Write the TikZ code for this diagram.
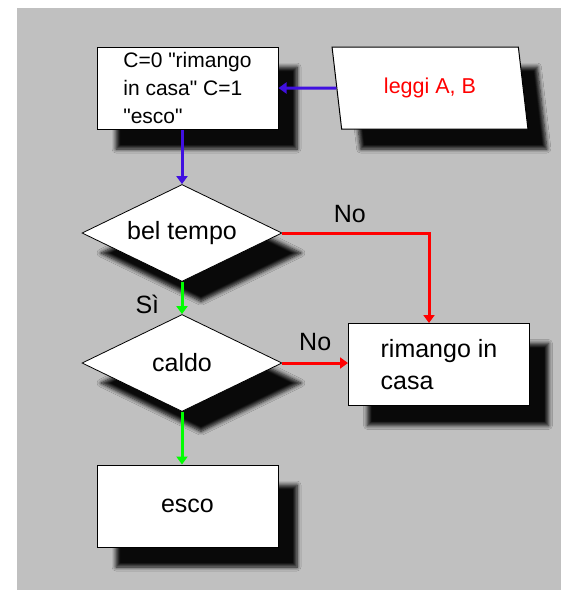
\documentclass[tikz,border=0pt]{standalone}
\usepackage{fontspec}
\setmainfont{Liberation Sans}
\usetikzlibrary{shapes.geometric,arrows.meta,shadows.blur}
\definecolor{bggray}{RGB}{192,192,192}
\definecolor{linkblue}{RGB}{64,16,224}
\definecolor{linkgreen}{RGB}{0,255,0}
\definecolor{linkred}{RGB}{255,0,0}
\newcommand{\dq}{\textquotedbl}
\tikzset{
  shade box/.style={blur shadow={shadow xshift=19pt, shadow yshift=-20pt, shadow blur radius=4pt, shadow opacity=95, shadow blur steps=6}},
  block/.style={rectangle, draw, fill=white, line width=1pt, shade box, minimum width=181pt, minimum height=82pt, inner sep=0pt},
  test/.style={diamond, draw, fill=white, line width=0.8pt, shade box, aspect=2, minimum width=200pt, minimum height=97pt, inner sep=0pt},
  link/.style={line width=3pt, -{Triangle[length=8pt,width=11pt]}},
  big/.style={font=\fontsize{25}{32}\selectfont},
}
\begin{document}
\begin{tikzpicture}[x=1pt,y=-1pt]
\fill [white] (0,0) rectangle (561,590);
\fill [bggray] (17,8) rectangle (561,590);
\node [block, align=left, font=\fontsize{21}{28}\selectfont] (init) at (187.5,88) {C=0 \dq rimango\\in casa\dq{} C=1\\\dq esco\dq};
\node [trapezium, trapezium left angle=104, trapezium right angle=76, trapezium stretches=true, minimum width=196pt, minimum height=82pt, inner sep=0pt, draw, fill=white, line width=1pt, shade box, text=linkred, font=\fontsize{21.5}{26}\selectfont] (leggi) at (430,88) {leggi A, B};
\node [test, big] (bel) at (182,233) {bel tempo};
\node [test, big] (caldo) at (182,363) {caldo};
\node [block, big, align=left] (rimango) at (439,364.5) {rimango in\\casa};
\node [block, big] (esco) at (187.5,506) {esco};
\draw [link, linkblue] (leggi.west) -- (init.east);
\draw [link, linkblue] (bel.north |- init.south) -- (bel.north);
\draw [link, linkgreen] (bel.south) -- (caldo.north) node [big, black, left=18pt, pos=0.7] {Sì};
\draw [link, linkred] (bel.east) -| ([xshift=-10pt]rimango.north) node [big, black, above=5pt, pos=0.23] {No};
\draw [link, linkred] (caldo.east) -- (caldo.east -| rimango.west) node [big, black, above=7pt, midway] {No};
\draw [link, linkgreen] (caldo.south) -- (caldo.south |- esco.north);
\end{tikzpicture}
\end{document}
